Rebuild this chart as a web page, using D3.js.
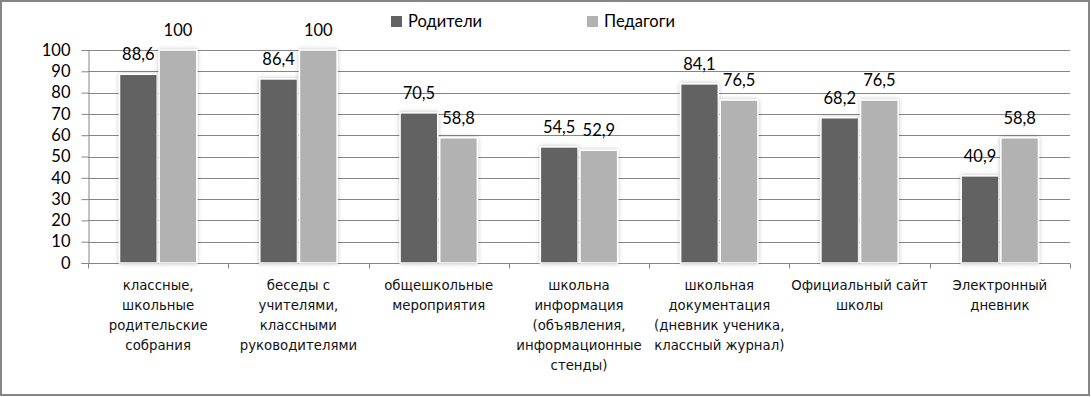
<!DOCTYPE html>
<html lang="ru">
<head>
<meta charset="UTF-8">
<title>Родители и педагоги</title>
<script src="https://d3js.org/d3.v7.min.js"></script>
<style>
    body { margin: 0; background: #fff; }
    svg { display: block; }
    .num { font-family: Lato, "Liberation Sans", sans-serif; font-size: 16.5px; fill: #000; }
    .cat { font-family: "DejaVu Sans", sans-serif; font-size: 13.3px; fill: #111; }
</style>
</head>
<body>
<svg id="chart"></svg>
<script>
// данные
const categories = [
    ["классные,", "школьные", "родительские", "собрания"],
    ["беседы с", "учителями,", "классными", "руководителями"],
    ["общешкольные", "мероприятия"],
    ["школьна", "информация", "(объявления,", "информационные", "стенды)"],
    ["школьная", "документация", "(дневник ученика,", "классный журнал)"],
    ["Официальный сайт", "школы"],
    ["Электронный", "дневник"]
];
const seriesNames = ["Родители", "Педагоги"];
const parents  = [88.6, 86.4, 70.5, 54.5, 84.1, 68.2, 40.9];
const teachers = [100, 100, 58.8, 52.9, 76.5, 76.5, 58.8];
const yTicks = [0, 10, 20, 30, 40, 50, 60, 70, 80, 90, 100];

const colors = ["#626262", "#b2b2b2"];
const width = 1091, height = 397;
const margin = { top: 50, right: 21, bottom: 134, left: 88 };

const svg = d3.select("#chart").attr("width", width).attr("height", height);

// тень под столбиками
const defs = svg.append("defs");
const f = defs.append("filter").attr("id", "shadow")
    .attr("x", "-20%").attr("y", "-10%").attr("width", "140%").attr("height", "120%");
f.append("feDropShadow").attr("dx", 0).attr("dy", 0).attr("stdDeviation", 2)
    .attr("flood-color", "#000").attr("flood-opacity", 0.25);

// рамка
svg.append("rect").attr("x", 1).attr("y", 1).attr("width", width - 3).attr("height", height - 3)
    .attr("fill", "#fff").attr("stroke", "#868686").attr("stroke-width", 2);

const x0 = d3.scaleBand()
    .domain(d3.range(categories.length))
    .range([margin.left, width - margin.right]);
const x1 = d3.scaleBand()
    .domain([0, 1])
    .range([31.5, x0.bandwidth() - 31.5])
    .paddingInner(0.05);
const y = d3.scaleLinear()
    .domain([0, 100])
    .range([height - margin.bottom, margin.top]);

// сетка
svg.append("g")
    .selectAll("line")
    .data(yTicks.filter(d => d > 0))
    .join("line")
    .attr("x1", margin.left).attr("x2", width - margin.right)
    .attr("y1", d => Math.round(y(d)) + 0.5).attr("y2", d => Math.round(y(d)) + 0.5)
    .attr("stroke", "#868686");

// ось Y
const yAxis = svg.append("g")
    .attr("transform", `translate(${margin.left + 0.5},0)`)
    .call(d3.axisLeft(y).tickValues(yTicks).tickSize(7).tickPadding(11).tickFormat(d3.format("d")));
yAxis.select(".domain").attr("stroke", "#868686");
yAxis.selectAll(".tick line").attr("stroke", "#868686");
yAxis.selectAll(".tick text").attr("class", "num").attr("font-family", null).attr("font-size", null);

// ось X
const xBase = Math.round(y(0)) + 0.5;
svg.append("line")
    .attr("x1", margin.left).attr("x2", width - margin.right)
    .attr("y1", xBase).attr("y2", xBase)
    .attr("stroke", "#868686");
svg.append("g")
    .selectAll("line")
    .data(d3.range(categories.length + 1))
    .join("line")
    .attr("x1", i => Math.round(margin.left + i * x0.step()) + 0.5)
    .attr("x2", i => Math.round(margin.left + i * x0.step()) + 0.5)
    .attr("y1", xBase).attr("y2", xBase + 5)
    .attr("stroke", "#868686");

// столбики
const rows = categories.map((c, i) => [parents[i], teachers[i]]);
const groups = svg.append("g")
    .selectAll("g")
    .data(rows)
    .join("g")
    .attr("transform", (d, i) => `translate(${x0(i)},0)`);

groups.selectAll("rect")
    .data(d => d)
    .join("rect")
    .attr("x", (d, j) => x1(j))
    .attr("y", d => y(d))
    .attr("width", x1.bandwidth())
    .attr("height", d => y(0) - y(d))
    .attr("fill", (d, j) => colors[j])
    .attr("stroke", "#fff")
    .attr("stroke-width", 1.5)
    .attr("filter", "url(#shadow)");

groups.selectAll("text")
    .data(d => d)
    .join("text")
    .attr("class", "num")
    .attr("x", (d, j) => x1(j) + x1.bandwidth() / 2)
    .attr("y", d => y(d) - 14)
    .attr("text-anchor", "middle")
    .text(d => d3.format(".1f")(d).replace(".0", "").replace(".", ","));

// подписи категорий
const catText = svg.append("g")
    .selectAll("text")
    .data(categories)
    .join("text")
    .attr("class", "cat")
    .attr("text-anchor", "middle")
    .attr("x", (d, i) => x0(i) + x0.bandwidth() / 2)
    .attr("y", 290);
catText.selectAll("tspan")
    .data(d => d)
    .join("tspan")
    .attr("x", function () { return this.parentNode.getAttribute("x"); })
    .attr("dy", (d, k) => k === 0 ? 0 : 20)
    .text(d => d);

// легенда
const legendX = [391, 587];
const legend = svg.append("g")
    .selectAll("g")
    .data(seriesNames)
    .join("g")
    .attr("transform", (d, i) => `translate(${legendX[i]},16)`);
legend.append("rect")
    .attr("width", 11).attr("height", 11)
    .attr("fill", (d, i) => colors[i]);
legend.append("text")
    .attr("class", "num")
    .attr("x", 17).attr("y", 11)
    .text(d => d);
</script>
</body>
</html>
